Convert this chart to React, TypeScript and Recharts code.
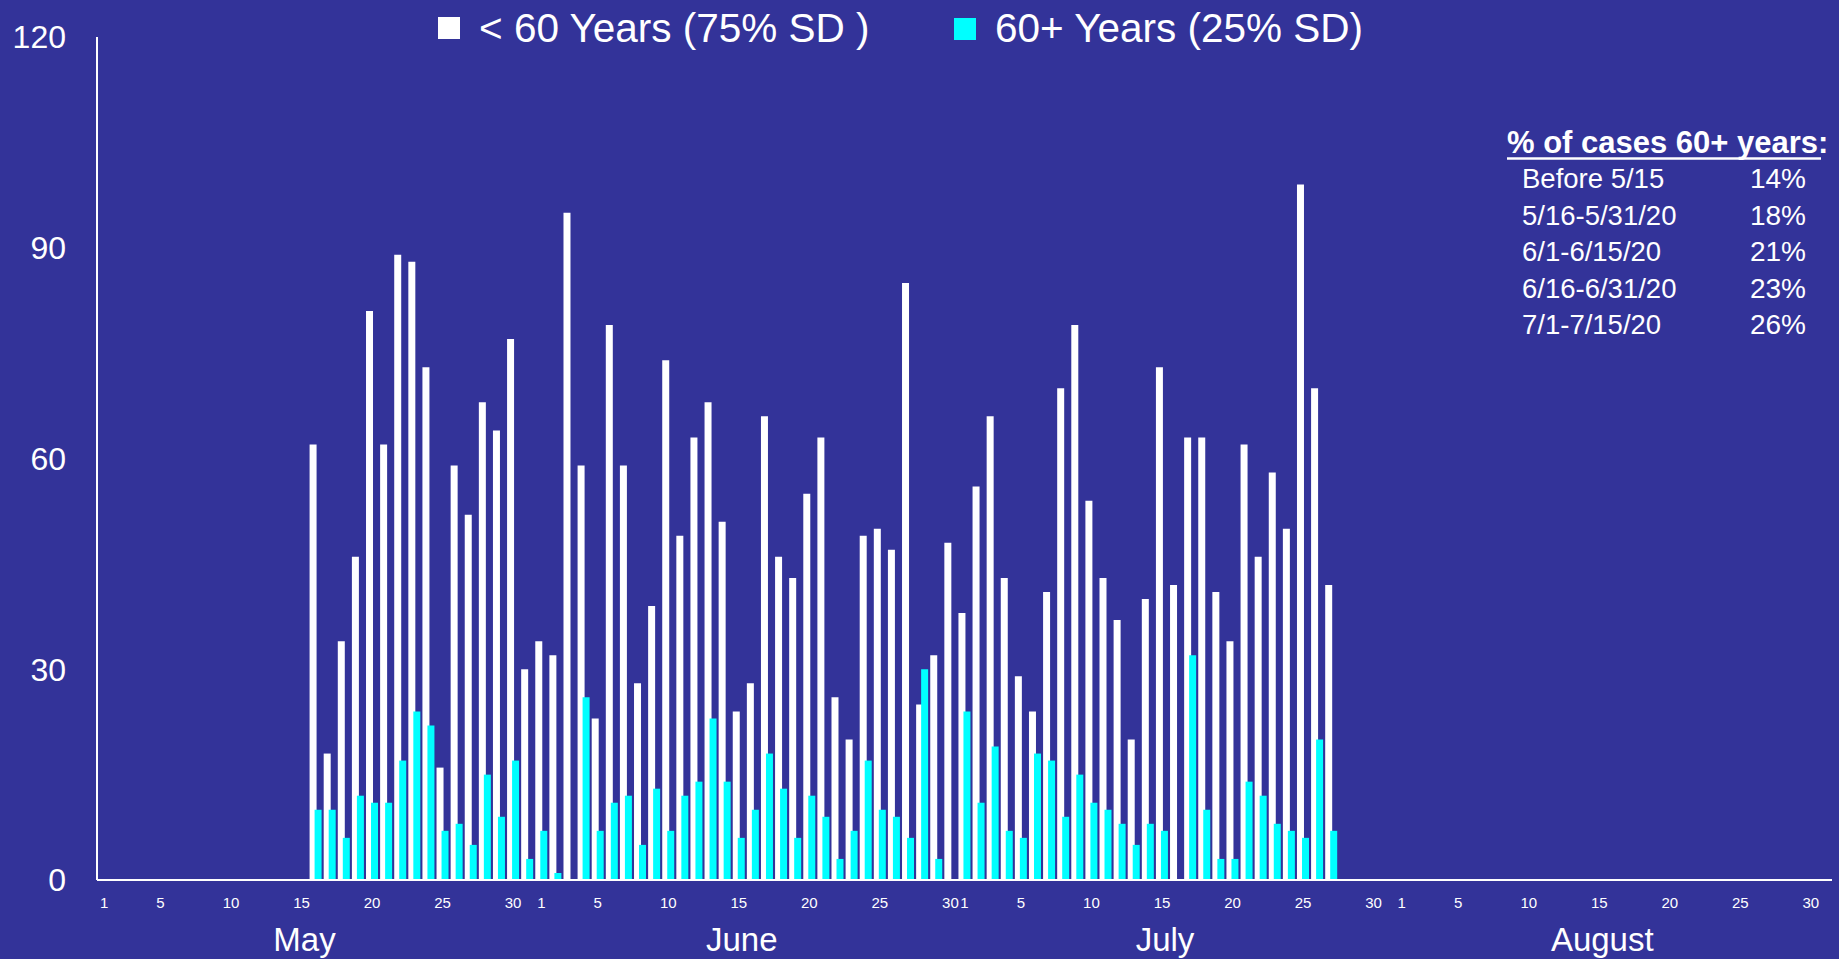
import { BarChart, Bar, XAxis, YAxis } from 'recharts';

const monthNames = ['May', 'June', 'July', 'August'];
const monthLengths = [31, 30, 31, 31];
const dayTicks = [1, 5, 10, 15, 20, 25, 30];
const monthLabelDay = 15;
const yTicks = [0, 30, 60, 90, 120];

// daily case counts, 5/16 through 7/27
const firstDay = '5/16';
const under60 = [
  62, 18, 34, 46, 81, 62, 89, 88, 73, 16, 59, 52, 68, 64, 77, 30,
  34, 32, 95, 59, 23, 79, 59, 28, 39, 74, 49, 63, 68, 51, 24, 28, 66, 46, 43, 55, 63, 26, 20, 49, 50, 47, 85, 25, 32, 48,
  38, 56, 66, 43, 29, 24, 41, 70, 79, 54, 43, 37, 20, 40, 73, 42, 63, 63, 41, 34, 62, 46, 58, 50, 99, 70, 42,
];
const over60 = [
  10, 10, 6, 12, 11, 11, 17, 24, 22, 7, 8, 5, 15, 9, 17, 3,
  7, 1, 0, 26, 7, 11, 12, 5, 13, 7, 12, 14, 23, 14, 6, 10, 18, 13, 6, 12, 9, 3, 7, 17, 10, 9, 6, 30, 3, 0,
  24, 11, 19, 7, 6, 18, 17, 9, 15, 11, 10, 8, 5, 8, 7, 0, 32, 10, 3, 3, 14, 12, 8, 7, 6, 20, 7,
];

const legendItems = ['< 60 Years (75% SD )', '60+ Years (25% SD)'];
const tableTitle = '% of cases 60+ years';
const tablePeriods = ['Before 5/15', '5/16-5/31/20', '6/1-6/15/20', '6/16-6/31/20', '7/1-7/15/20'];
const tableShares = ['14%', '18%', '21%', '23%', '26%'];

const BG = '#333399';
const WHITE = '#ffffff';
const CYAN = '#00ffff';
const FONT = '"Liberation Sans", Arial, sans-serif';

const dates: string[] = [];
monthLengths.forEach((len, m) => {
  for (let d = 1; d <= len; d++) dates.push(`${m + 5}/${d}`);
});
const start = dates.indexOf(firstDay);
const data = dates.map((date, i) => ({
  date,
  under60: under60[i - start],
  over60: over60[i - start],
}));
const tickDates = dates.filter(d => dayTicks.includes(Number(d.split('/')[1])));

const DayTick = ({ x, y, payload }: any) => {
  const [m, d] = String(payload.value).split('/').map(Number);
  return (
    <g>
      <text x={x} y={y} dy="0.71em" textAnchor="middle" fill={WHITE} fontSize={15} fontFamily={FONT}>
        {d}
      </text>
      {d === monthLabelDay && (
        <text x={x + 3} y={y + 31} dy="0.71em" textAnchor="middle" fill={WHITE} fontSize={33} fontFamily={FONT}>
          {monthNames[m - 5]}
        </text>
      )}
    </g>
  );
};

export default function App() {
  return (
    <div style={{ position: 'absolute', left: 0, top: 0, width: 1839, height: 959, background: BG, fontFamily: FONT }}>
      <BarChart
        width={1839}
        height={959}
        data={data}
        margin={{ top: 37, right: 7, bottom: 0, left: 0 }}
        barGap={-2}
      >
        <XAxis
          dataKey="date"
          ticks={tickDates}
          interval={0}
          tick={<DayTick />}
          tickLine={false}
          tickMargin={11}
          axisLine={{ stroke: WHITE, strokeWidth: 2 }}
          height={79}
        />
        <YAxis
          width={97}
          domain={[0, 120]}
          ticks={yTicks}
          interval={0}
          tickLine={false}
          tickMargin={25}
          axisLine={{ stroke: WHITE, strokeWidth: 2 }}
          tick={{ fill: WHITE, fontSize: 32, fontFamily: FONT }}
        />
        <Bar dataKey="under60" fill={WHITE} barSize={7} isAnimationActive={false} />
        <Bar dataKey="over60" fill={CYAN} barSize={7} isAnimationActive={false} />
      </BarChart>

      <svg width={1839} height={959} style={{ position: 'absolute', left: 0, top: 0, pointerEvents: 'none' }}>
        <rect x={438} y={17} width={22} height={22} fill={WHITE} />
        <text x={479} y={42} fill={WHITE} fontSize={40.5} fontFamily={FONT}>{legendItems[0]}</text>
        <rect x={954} y={18} width={22} height={22} fill={CYAN} />
        <text x={995} y={42} fill={WHITE} fontSize={40.5} fontFamily={FONT}>{legendItems[1]}</text>

        <text x={1507} y={153} fill={WHITE} fontSize={31} fontWeight="bold" fontFamily={FONT}>
          {tableTitle}:
        </text>
        <line x1={1507} x2={1821} y1={158.5} y2={158.5} stroke={WHITE} strokeWidth={2.5} />
        {tablePeriods.map((p, i) => (
          <g key={p}>
            <text x={1522} y={188 + i * 36.6} fill={WHITE} fontSize={27.5} fontFamily={FONT}>{p}</text>
            <text x={1806} y={188 + i * 36.6} fill={WHITE} fontSize={28} fontFamily={FONT} textAnchor="end">
              {tableShares[i]}
            </text>
          </g>
        ))}
      </svg>
    </div>
  );
}
